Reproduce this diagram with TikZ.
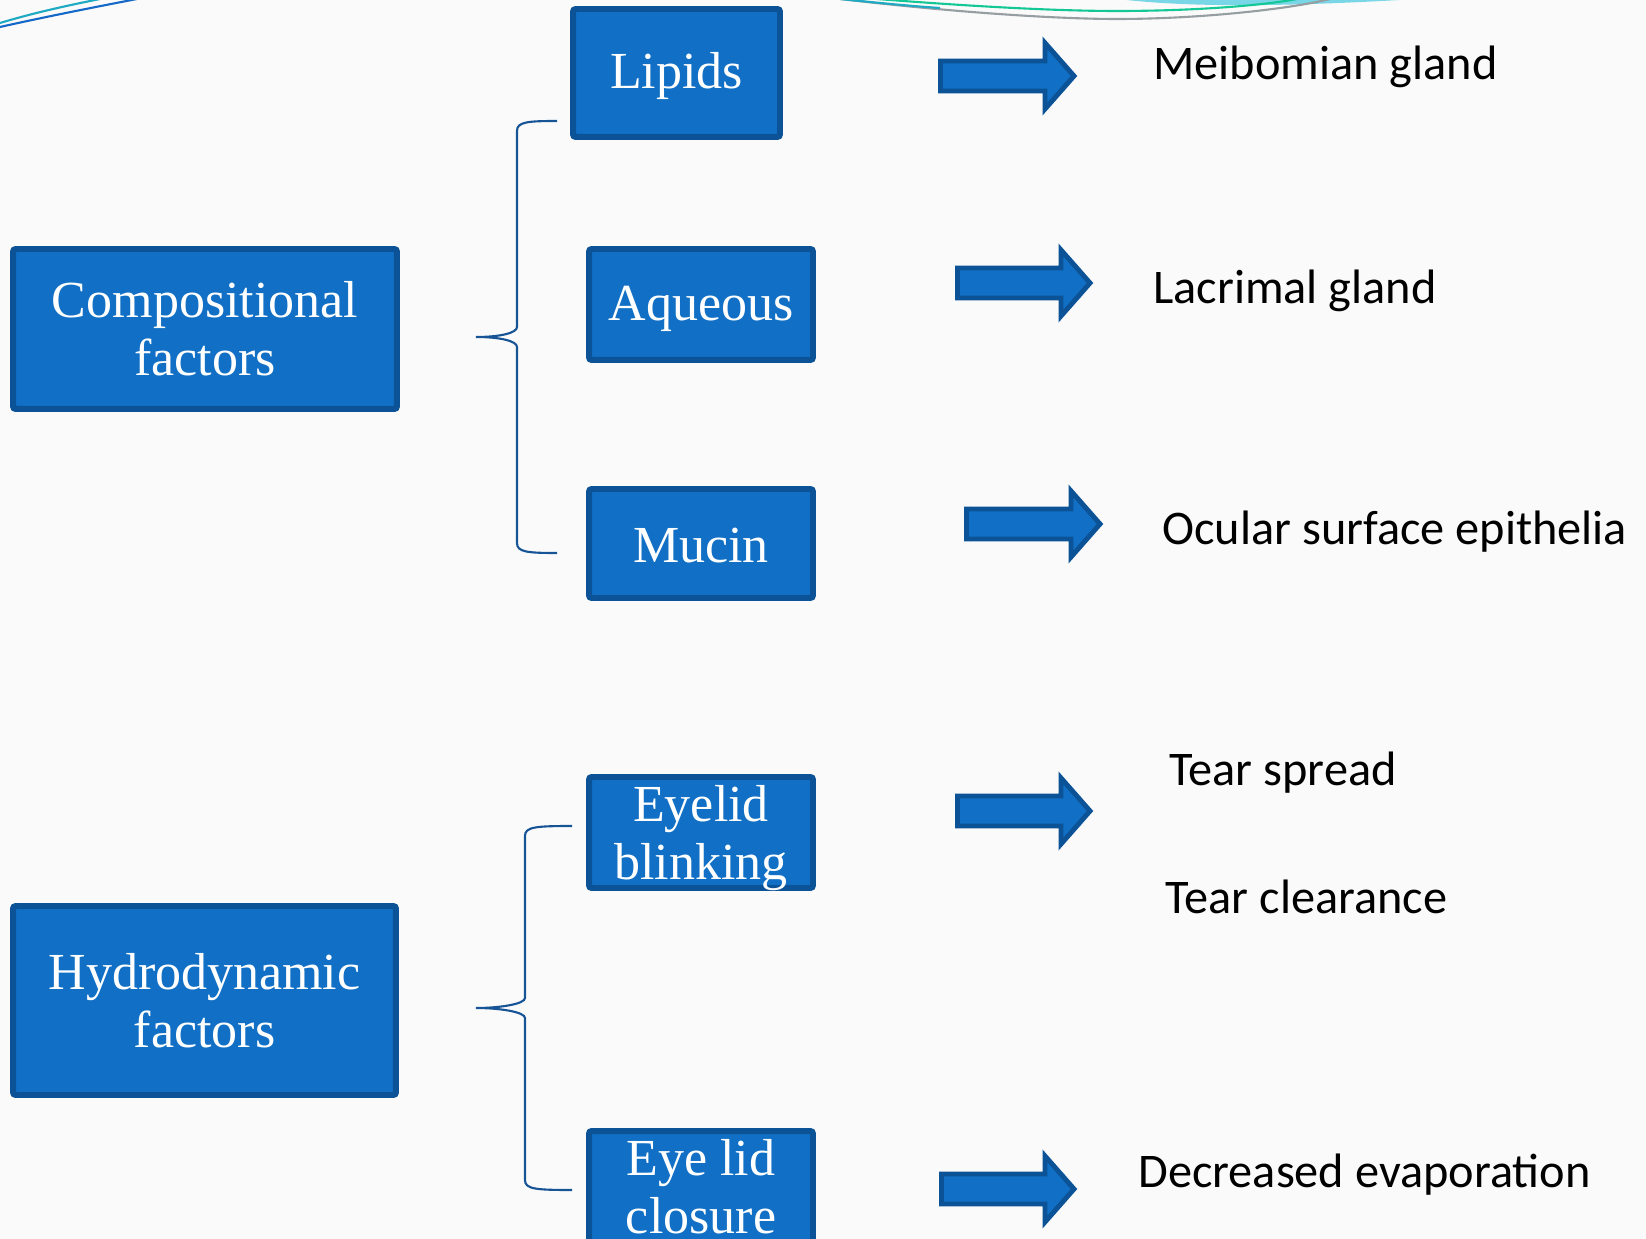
\documentclass[tikz,border=0pt]{standalone}
\usepackage{fontspec}
\setmainfont{Liberation Serif}
\newfontfamily\glandfont{Carlito}
\usepackage{xcolor}
\usetikzlibrary{math}
\definecolor{boxblue}{RGB}{17,112,197}
\definecolor{edgeblue}{RGB}{11,82,150}
\definecolor{bracecol}{RGB}{22,84,150}
\definecolor{paper}{RGB}{250,250,250}
\definecolor{swirlcyan}{RGB}{120,214,230}
\definecolor{swirlgreen}{RGB}{20,200,150}
\definecolor{swirlgrey}{RGB}{150,158,162}
\definecolor{swirlteal}{RGB}{30,170,195}
\definecolor{swirlblue}{RGB}{20,105,200}

% block arrow: start x, tip x, middle y (picture units)
\newcommand{\fatarrow}[3]{%
\draw[line width=2.8pt,color=edgeblue,fill=boxblue,line join=miter]
  ({#1+2.5},{#3-15}) -- ({#2-33},{#3-15}) -- ({#2-33},{#3-33}) -- ({#2-4},#3)
  -- ({#2-33},{#3+33}) -- ({#2-33},{#3+15}) -- ({#1+2.5},{#3+15}) -- cycle;
}
% left brace: end x, stem x, tip x, top y, bottom y
\newcommand{\leftbrace}[5]{%
\tikzmath{\m=(#4+#5)/2;}
\draw[bracecol,line width=1.2pt]
  (#1,#4) .. controls ({#2+10},#4) and (#2,{#4+1}) .. (#2,{#4+10})
  -- (#2,{\m-10}) .. controls (#2,{\m-4}) and ({#3+24},\m) .. (#3,\m)
  .. controls ({#3+24},\m) and (#2,{\m+4}) .. (#2,{\m+10})
  -- (#2,{#5-10}) .. controls (#2,{#5-1}) and ({#2+10},#5) .. (#1,#5);
}

\begin{document}
\begin{tikzpicture}[x=0.02cm,y=-0.02cm,
  factor/.style={draw=edgeblue,fill=boxblue,line width=3.4pt,rounded corners=1.5pt,
    text=white,align=center,inner sep=0pt,font=\fontsize{29.6pt}{33pt}\selectfont},
  drop/.style={execute at begin node={\rule{0pt}{#1}}},
  gland/.style={anchor=base west,inner sep=0pt,font=\glandfont\fontsize{27.5pt}{33pt}\selectfont}]
\clip (0,0) rectangle (1646,1239);
\fill[paper] (0,0) rectangle (1646,1239);

% swirls along the top edge
\draw[swirlteal,line width=1.2pt] (0,23) .. controls (30,14) and (60,7) .. (100,-1);
\draw[swirlblue,line width=1.2pt] (0,27) .. controls (40,18) and (90,8) .. (137,-1);
\fill[swirlcyan] (1110,-2) .. controls (1170,6) and (1260,9) .. (1433,-2) -- cycle;
\draw[swirlgrey,line width=1.2pt] (840,-1) .. controls (960,13) and (1060,19) .. (1117,19)
  .. controls (1200,19) and (1290,9) .. (1330,-1);
\draw[swirlteal,line width=1.2pt] (840,-1) .. controls (880,3) and (910,6) .. (940,8);
\draw[swirlgreen,line width=1.2pt] (877,-1) .. controls (980,7) and (1060,11) .. (1117,11)
  .. controls (1190,11) and (1260,6) .. (1297,-1);

% factor boxes
\node[factor,minimum width=7.68cm,minimum height=3.2cm] (comp) at (205,329) {Compositional\\factors};
\node[factor,minimum width=7.66cm,minimum height=3.78cm] (hydro) at (204.5,1000.5) {Hydrodynamic\\factors};
\node[factor,drop=23.8pt,minimum width=4.14cm,minimum height=2.56cm] (lipids) at (676.5,73) {Lipids};
\node[factor,drop=24.6pt,minimum width=4.48cm,minimum height=2.22cm] (aqueous) at (701,304.5) {Aqueous};
\node[factor,drop=21.4pt,minimum width=4.48cm,minimum height=2.18cm] (mucin) at (701,543.5) {Mucin};
\node[factor,minimum width=4.48cm,minimum height=2.22cm] (blink) at (701,832.5) {Eyelid\\\smash{blinking}};
\node[factor,minimum width=4.48cm,minimum height=2.22cm] (closure) at (701,1186.5) {Eye lid\\closure};

\leftbrace{557}{517}{476}{121}{553}
\leftbrace{572}{525}{476}{826}{1190}

\fatarrow{938}{1078}{76}
\fatarrow{955}{1094}{283}
\fatarrow{964}{1104}{524}
\fatarrow{955}{1094}{811}
\fatarrow{939}{1078}{1189}

\node[gland] (meib) at (1153,80) {Meibomian gland};
\node[gland] (lacr) at (1153,304) {Lacrimal gland};
\node[gland] (ocul) at (1162,545) {Ocular surface epithelia};
\node[gland] (spread) at (1169,785) {Tear spread};
\node[gland] (clear) at (1165,913) {Tear clearance};
\node[gland] (evap) at (1138,1187) {Decreased evaporation};
\end{tikzpicture}
\end{document}
